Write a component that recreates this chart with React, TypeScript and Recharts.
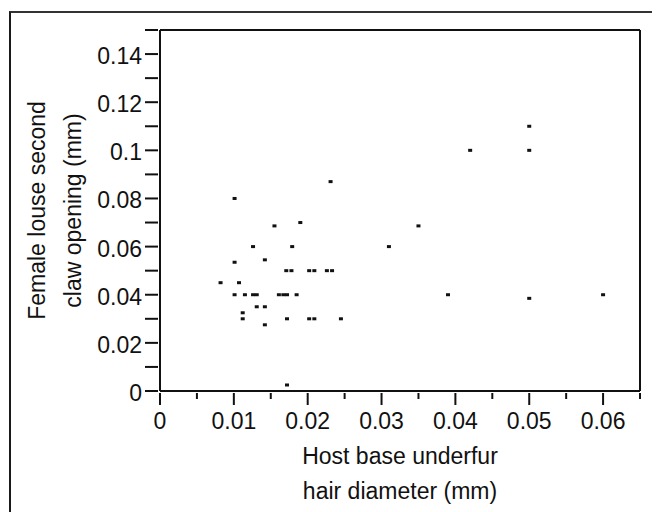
import { Label, ReferenceLine, Scatter, ScatterChart, XAxis, YAxis } from "recharts";

// host base underfur hair diameter (mm), one entry per louse sample
const hairDiameter = [
    0.0082, 0.0101, 0.0101, 0.0101, 0.0107, 0.0112, 0.0112, 0.0115, 0.0126, 0.0126,
    0.0131, 0.0131, 0.0142, 0.0142, 0.0142, 0.0155, 0.0161, 0.0167, 0.0172, 0.0171,
    0.0178, 0.0172, 0.0172, 0.0179, 0.0185, 0.019, 0.0202, 0.0209, 0.0202, 0.0209,
    0.0226, 0.0233, 0.0231, 0.0245, 0.031, 0.035, 0.039, 0.042, 0.05, 0.05,
    0.05, 0.06,
];

// female louse second claw opening (mm), same order as above
const clawOpening = [
    0.045, 0.08, 0.0535, 0.04, 0.045, 0.0325, 0.03, 0.04, 0.06, 0.04,
    0.04, 0.035, 0.0545, 0.035, 0.0275, 0.0686, 0.04, 0.04, 0.04, 0.05,
    0.05, 0.03, 0.0025, 0.06, 0.04, 0.07, 0.05, 0.05, 0.03, 0.03,
    0.05, 0.05, 0.087, 0.03, 0.06, 0.0686, 0.04, 0.1, 0.11, 0.1,
    0.0385, 0.04,
];

const xTicks = [0, 0.005, 0.01, 0.015, 0.02, 0.025, 0.03, 0.035, 0.04, 0.045, 0.05, 0.055, 0.06, 0.065];
const yTicks = [0, 0.01, 0.02, 0.03, 0.04, 0.05, 0.06, 0.07, 0.08, 0.09, 0.1, 0.11, 0.12, 0.13, 0.14, 0.15];

const xTitle = ["Host base underfur", "hair diameter (mm)"];
const yTitle = ["Female louse second", "claw opening (mm)"];

const FONT = "'Liberation Sans', Arial, Helvetica, sans-serif";
const INK = "#111";

const data = hairDiameter.map((d, i) => ({ x: d, y: clawOpening[i] }));

const fmt = (v: number) => parseFloat(v.toFixed(3)).toString();

const XTick = (props: any) => {
    const { x, y, payload } = props;
    const v = payload.value;
    const major = Math.abs(v * 100 - Math.round(v * 100)) < 1e-6;
    return (
        <g>
            <line x1={x} y1={y} x2={x} y2={y + (major ? 12 : 6)} stroke={INK} strokeWidth={2} />
            {major && (
                <text x={x} y={y + 36} textAnchor="middle" fontSize={23} fontFamily={FONT} fill={INK}>
                    {fmt(v)}
                </text>
            )}
        </g>
    );
};

const YTick = (props: any) => {
    const { x, y, payload } = props;
    const v = payload.value;
    const labelled = Math.round(v * 100) % 2 === 0;
    return (
        <g>
            <line x1={x - 13} y1={y} x2={x} y2={y} stroke={INK} strokeWidth={2} />
            {labelled && (
                <text x={x - 16} y={y + 10} textAnchor="end" fontSize={23} fontFamily={FONT} fill={INK}>
                    {fmt(v)}
                </text>
            )}
        </g>
    );
};

const XTitle = (props: any) => {
    const { x, y, width } = props.viewBox;
    const cx = x + width / 2;
    return (
        <g>
            {xTitle.map((t, i) => (
                <text key={t} x={cx} y={y + 72.5 + i * 35.5} textAnchor="middle" fontSize={23} fontFamily={FONT} fill={INK}>
                    {t}
                </text>
            ))}
        </g>
    );
};

const YTitle = (props: any) => {
    const { x, y, width, height } = props.viewBox;
    const cy = y + height / 2;
    const axisX = x + width;
    return (
        <g>
            {yTitle.map((t, i) => {
                const bx = axisX - 115 + i * 35.5;
                return (
                    <text key={t} x={bx} y={cy} transform={`rotate(-90, ${bx}, ${cy})`} textAnchor="middle" fontSize={23} fontFamily={FONT} fill={INK}>
                        {t}
                    </text>
                );
            })}
        </g>
    );
};

const Dot = (props: any) => (
    <rect x={props.cx - 2} y={props.cy - 1.5} width={4} height={3} fill={INK} />
);

const App = () => {
    return (
        <div style={{ position: "relative", width: 652, height: 504, overflow: "hidden", background: "#fff" }}>
            <div
                style={{
                    position: "absolute",
                    left: 1,
                    top: 3,
                    width: 700,
                    height: 600,
                    borderLeft: "2px solid #1a1a1a",
                    borderTop: "2px solid #333",
                }}
            />
            <div style={{ position: "absolute", left: 0, top: 0 }}>
                <ScatterChart width={652} height={504} margin={{ top: 22, right: 20, bottom: 0, left: 0 }}>
                    <XAxis
                        type="number"
                        dataKey="x"
                        domain={[0, 0.065]}
                        ticks={xTicks}
                        interval={0}
                        height={121}
                        tickSize={0}
                        tickLine={false}
                        axisLine={{ stroke: INK, strokeWidth: 2 }}
                        tick={<XTick />}
                        allowDataOverflow
                    >
                        <Label content={<XTitle />} />
                    </XAxis>
                    <YAxis
                        type="number"
                        dataKey="y"
                        domain={[0, 0.15]}
                        ticks={yTicks}
                        interval={0}
                        width={152}
                        tickSize={0}
                        tickLine={false}
                        axisLine={{ stroke: INK, strokeWidth: 2 }}
                        tick={<YTick />}
                        allowDataOverflow
                    >
                        <Label content={<YTitle />} />
                    </YAxis>
                    <ReferenceLine y={0.15} stroke={INK} strokeWidth={2} />
                    <ReferenceLine x={0.065} stroke={INK} strokeWidth={2} />
                    <Scatter data={data} shape={<Dot />} isAnimationActive={false} />
                </ScatterChart>
            </div>
        </div>
    );
};

export default App;
